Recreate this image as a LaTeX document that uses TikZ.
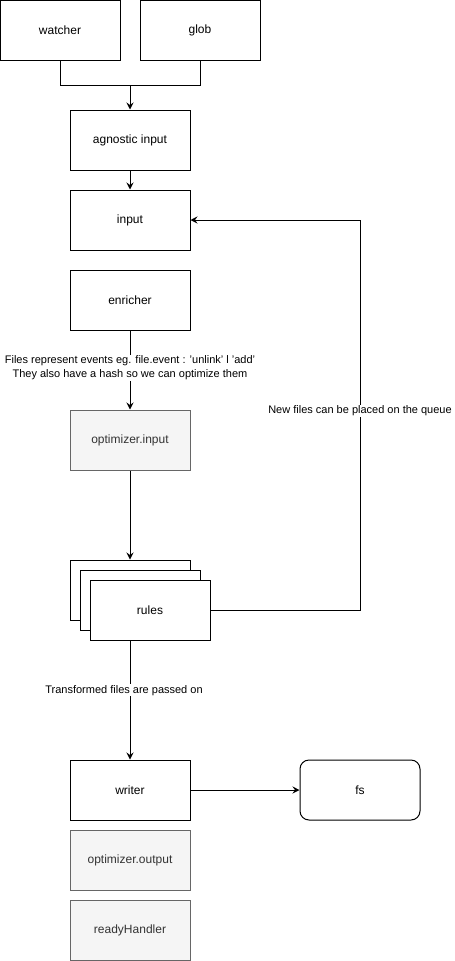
\documentclass[tikz,border=0pt]{standalone}
\usepackage{fontspec}
\setmainfont{Liberation Sans}
\usetikzlibrary{arrows.meta}
\definecolor{grayfill}{HTML}{F5F5F5}
\definecolor{graystroke}{HTML}{666666}
\tikzset{
  box/.style={draw=black, line width=1pt, fill=white, minimum width=120pt, minimum height=60pt, inner sep=0pt, font=\fontsize{12}{14}\selectfont, text=black},
  graybox/.style={box, draw=graystroke, fill=grayfill, text=black!80},
  roundbox/.style={box, rounded corners=9pt},
  conn/.style={line width=1pt, draw=black},
  arr/.style={conn, -{Stealth[length=7pt,width=7pt,inset=2.5pt]}},
  elabel/.style={fill=white, inner sep=1pt, font=\fontsize{11}{14}\selectfont, align=center, text=black}
}
\begin{document}
\begin{tikzpicture}[x=1pt,y=-1pt]
\useasboundingbox (0,0) rectangle (455,961);
\node[box] (watcher) at (60,30) {watcher};
\node[box] (glob) at (200,30) {glob};
\node[box] (agnostic) at (130,140) {agnostic input};
\node[box] (input) at (130,220) {input};
\node[box] (enricher) at (130,300) {enricher};
\node[graybox] (optin) at (130,440) {optimizer.input};
\node[box] (rulesback) at (130,590) {};
\node[box] (rulesmid) at (140,600) {};
\node[box] (rules) at (150,610) {rules};
\node[box] (writer) at (130,790) {writer};
\node[roundbox] (fs) at (360,790) {fs};
\node[graybox] (optout) at (130,860) {optimizer.output};
\node[graybox] (ready) at (130,930) {readyHandler};

\coordinate (merge) at (130,85);
\draw[conn] (watcher.south) |- (merge);
\draw[conn] (glob.south) |- (merge);
\draw[arr] (merge) -- (agnostic.north);
\draw[arr] (agnostic.south) -- (input.north);
\draw[arr] (enricher.south) -- node[elabel, pos=0.47]{Files represent events eg. file.event : 'unlink' l 'add'\\They also have a hash so we can optimize them} (optin.north);
\draw[arr] (optin.south) -- (rulesback.north);
\coordinate (q1) at (360,610);
\coordinate (q2) at (360,220);
\draw[arr] (rules.east) -- (q1) -- node[elabel, pos=0.51]{New files can be placed on the queue} (q2) -- (input.east);
\coordinate (rulesout) at (130,640);
\draw[arr] (rulesout) -- node[elabel, pos=0.42, xshift=-6pt]{Transformed files are passed on} (writer.north);
\draw[arr] (writer.east) -- (fs.west);
\end{tikzpicture}
\end{document}
